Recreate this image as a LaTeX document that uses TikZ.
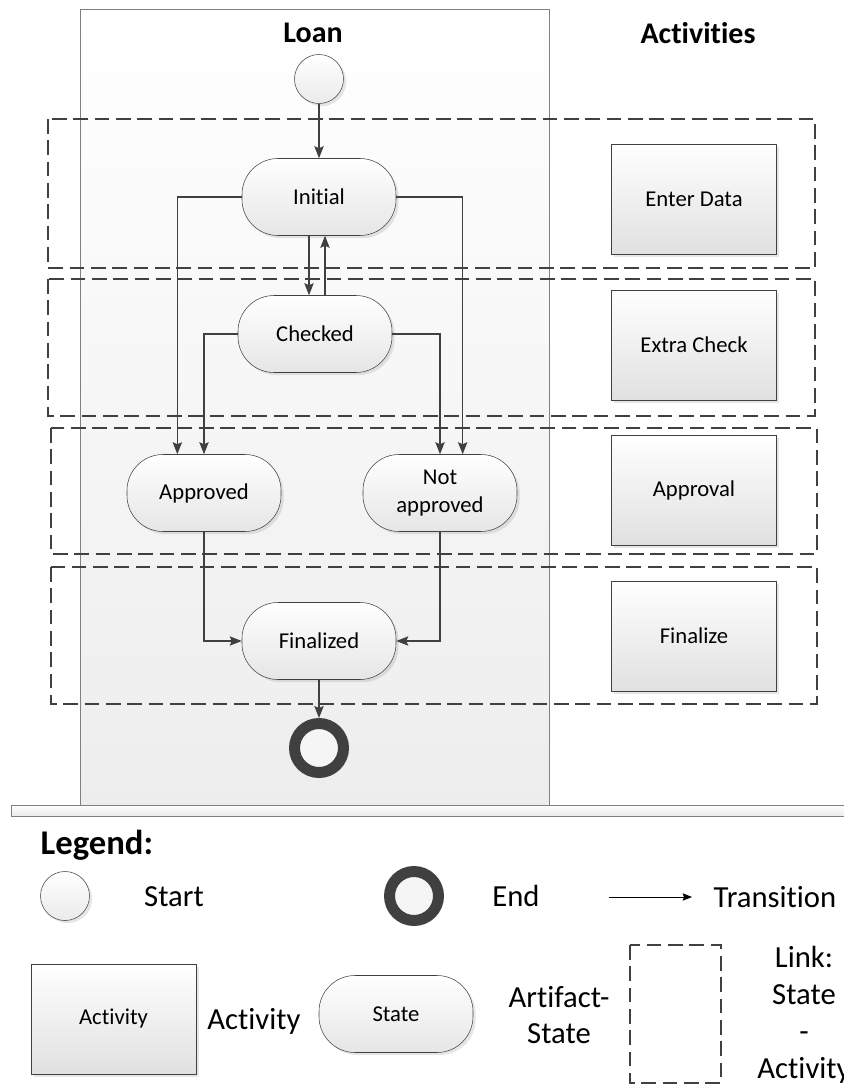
\documentclass[tikz,border=0pt]{standalone}
\usepackage{fontspec}
\setmainfont{Carlito}[Ligatures=NoCommon]
\usepackage{xcolor}
\usepackage{tikz}
\usetikzlibrary{arrows.meta,shadows}

\definecolor{linegray}{HTML}{404040}
\definecolor{lanegray}{HTML}{808080}

\begin{document}
\begin{tikzpicture}[x=0.75pt,y=-0.75pt,
    every node/.style={font=\fontsize{17}{20.5}\selectfont},
    head/.style={font=\bfseries\fontsize{22.5}{27}\selectfont},
    lbl/.style={font=\fontsize{23}{27.6}\selectfont, align=center},
    shade/.style={drop shadow={shadow xshift=2pt, shadow yshift=-2pt, opacity=.2}},
    state/.style={draw=linegray, rounded corners=27pt, minimum width=115.5pt, minimum height=57.75pt,
        top color=white, bottom color=black!10, align=center, shade},
    activity/.style={draw=linegray, minimum width=123.75pt, minimum height=82.5pt,
        top color=white, bottom color=black!12, shade},
    startnode/.style={circle, draw=linegray, inner sep=0pt, minimum size=36.75pt,
        top color=white, bottom color=black!8, shade},
    endnode/.style={circle, draw=linegray, line width=8.25pt, inner sep=0pt, minimum size=36.75pt,
        fill=black!4},
    linkbox/.style={draw=linegray, dash pattern=on 11pt off 5pt, line width=2pt},
    trans/.style={draw=linegray, line width=0.9pt, -{Stealth[length=9pt,width=7pt,inset=1.5pt]}},
    ]
\useasboundingbox (0,0) rectangle (843,1088);

% lane and separator
\filldraw[draw=lanegray, top color=white, bottom color=black!7] (80,9) rectangle (549,805);
\filldraw[draw=lanegray, top color=white, bottom color=black!8] (11,805) rectangle (860,816);

% links state - activity
\draw[linkbox] (48,119) rectangle (815,268);
\draw[linkbox] (48,279) rectangle (815,416);
\draw[linkbox] (51,428) rectangle (817,554);
\draw[linkbox] (51,567) rectangle (817,704);

    \node[head] (loan) at (313,33) {Loan};
    \node[head] (acts) at (698,33) {Activities};

    \node[startnode] (start) at (319,79) {};
    \node[state] (ini) at (319,197) {Initial};
    \node[state] (chk) at (315,334) {Checked};
    \node[state] (appr) at (204,493) {Approved};
    \node[state] (nappr) at (440,493) {Not\\approved};
    \node[state] (fin) at (319,641) {Finalized};
    \node[endnode] (end) at (319,748) {};

    \node[activity] (enter) at (694,199) {Enter Data};
    \node[activity] (extra) at (694,345) {Extra Check};
    \node[activity] (approval) at (694,490) {Approval};
    \node[activity] (finalize) at (694,636) {Finalize};

    % draw the arrows
    \draw[trans] (start) -- (ini);
    \draw[trans] ([xshift=-7.5pt]ini.south) -- ([xshift=-7.5pt]ini.south |- chk.north);
    \draw[trans] ([xshift=4.5pt]ini.south |- chk.north) -- ([xshift=4.5pt]ini.south);
    \draw[trans] (ini.west) -| ([xshift=-20pt]appr.north);
    \draw[trans] (ini.east) -| ([xshift=17pt]nappr.north);
    \draw[trans] (chk.west) -| (appr.north);
    \draw[trans] (chk.east) -| (nappr.north);
    \draw[trans] (appr.south) |- (fin.west);
    \draw[trans] (nappr.south) |- (fin.east);
    \draw[trans] (fin) -- (end);

% legend
    \node[font=\bfseries\fontsize{26}{31}\selectfont, anchor=west] (legend) at (36,845) {Legend:};
    \node[startnode] (lstart) at (65,896) {};
    \node[lbl] (lstarttxt) at (174,897) {Start};
    \node[endnode] (lend) at (414,896) {};
    \node[lbl] (lendtxt) at (516,896) {End};
    \coordinate (ltra) at (609,897);
    \coordinate (ltrb) at (692,897);
    \draw[draw=black, line width=0.7pt, -{Stealth[length=7pt,width=5.5pt,inset=1pt]}] (ltra) -- (ltrb);
    \node[lbl] (ltrtxt) at (775,897) {Transition};

    \node[activity] (lact) at (113.5,1019) {Activity};
    \node[lbl] (lacttxt) at (254,1021) {Activity};
    \node[state] (lstate) at (396,1014) {State};
    \node[lbl] (lartifact) at (559,1015) {Artifact-\\State};
    \draw[linkbox, line width=1.2pt] (630,945) rectangle (721,1083);
    \node[lbl] (llink) at (804,1015) {Link:\\State\\-\\Activity};

\end{tikzpicture}
\end{document}
